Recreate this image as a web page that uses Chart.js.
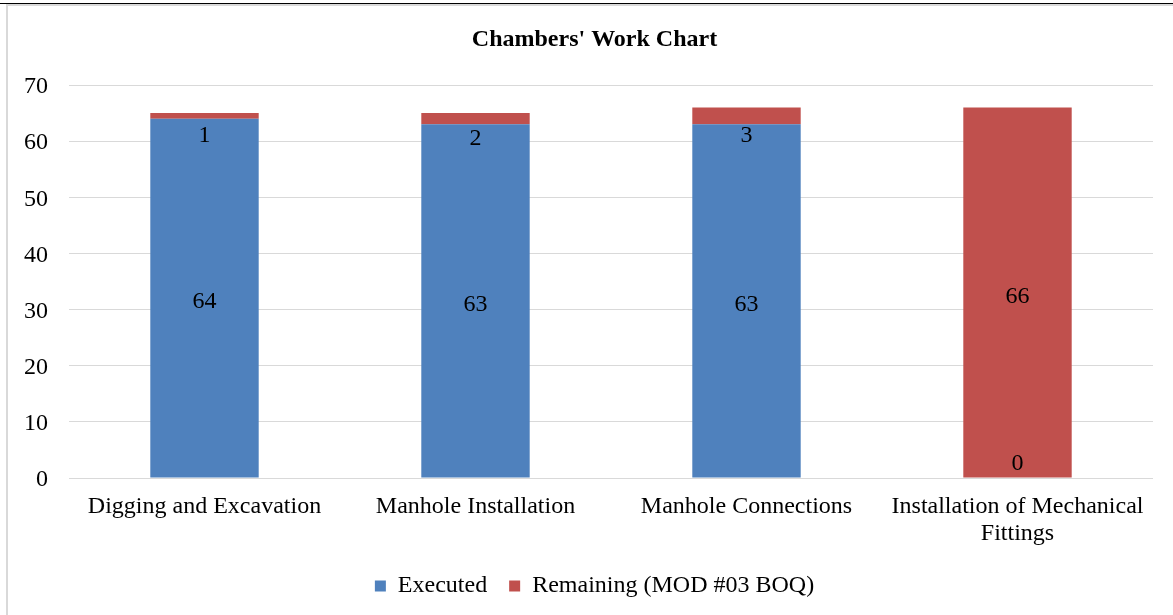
<!DOCTYPE html>
<html>
<head>
<meta charset="utf-8">
<script src="https://cdn.jsdelivr.net/npm/chart.js@4.4.1/dist/chart.umd.min.js"></script>
<style>
	html, body { margin: 0; padding: 0; background: #fff; overflow: hidden; }
	#topline { position: absolute; left: 0; top: 3px; width: 1173px; height: 1px; background: #000; }
	#frame { position: absolute; left: 6px; top: 4px; width: 1200px; height: 700px;
		border-left: 2px solid #d9d9d9; border-top: 2px solid #d9d9d9; }
	#wrap { position: absolute; left: 0; top: 0; width: 1189px; height: 608px; }
</style>
</head>
<body>
<div id="topline"></div>
<div id="frame"></div>
<div id="wrap"><canvas id="graph1"></canvas></div>
<script>
// dati del grafico
var categories = ["Digging and Excavation", "Manhole Installation", "Manhole Connections",
	["Installation of Mechanical", "Fittings"]];
var executed = [64, 63, 63, 0];
var remaining = [1, 2, 3, 66];
var yTicks = [0, 10, 20, 30, 40, 50, 60, 70];

var serif = "'Liberation Serif', 'Times New Roman', serif";

// etichette dei valori dentro le barre
var valueLabels = {
	id: "valueLabels",
	afterDatasetsDraw: function(chart) {
		var ctx = chart.ctx;
		ctx.save();
		ctx.font = "24px " + serif;
		ctx.fillStyle = "#000";
		ctx.textAlign = "center";
		ctx.textBaseline = "middle";
		chart.data.datasets.forEach(function(ds, di) {
			chart.getDatasetMeta(di).data.forEach(function(bar, i) {
				var h = Math.abs(bar.base - bar.y);
				var y = (bar.y + bar.base) / 2 + 4;
				if (ds.data[i] === 0) {
					y = bar.base - 14;
				} else if (h < 30) {
					y = y + 16;
				}
				ctx.fillText(String(ds.data[i]), bar.x, y);
			});
		});
		ctx.restore();
	}
};

function drawGraph(graphID) {
	var ctx = document.getElementById(graphID).getContext('2d');
	new Chart(ctx, {
		type: "bar",
		data: {
			labels: categories,
			datasets: [{
				label: "Executed",
				data: executed,
				backgroundColor: "#4f81bd",
				barPercentage: 0.4,
				categoryPercentage: 1
			}, {
				label: "Remaining (MOD #03 BOQ)",
				data: remaining,
				backgroundColor: "#c0504d",
				barPercentage: 0.4,
				categoryPercentage: 1
			}]
		},
		options: {
			responsive: true,
			maintainAspectRatio: false,
			animation: false,
			layout: { padding: 0 },
			plugins: {
				tooltip: { enabled: false },
				title: {
					display: true,
					text: "Chambers' Work Chart",
					color: "#000",
					font: { family: serif, size: 24, weight: "bold" },
					padding: { top: 25.6, bottom: 30.6 }
				},
				legend: {
					position: "bottom",
					labels: {
						color: "#000",
						font: { family: serif, size: 24 },
						boxWidth: 11,
						boxHeight: 11,
						padding: 22
					}
				}
			},
			scales: {
				x: {
					stacked: true,
					grid: { display: false },
					border: { display: false },
					ticks: {
						color: "#000",
						font: { family: serif, size: 24, lineHeight: 1.125 },
						padding: 7,
						maxRotation: 0,
						autoSkip: false
					},
					afterFit: function(scale) { scale.height = 74; }
				},
				y: {
					stacked: true,
					min: 0,
					max: 70,
					afterBuildTicks: function(scale) {
						scale.ticks = yTicks.map(function(v) { return { value: v }; });
					},
					grid: { color: "#d9d9d9", lineWidth: 1, drawTicks: false },
					border: { display: false },
					ticks: {
						color: "#000",
						font: { family: serif, size: 24 },
						padding: 21,
						labelOffset: 2
					},
					afterFit: function(scale) { scale.width = 69; }
				},
				// spazio vuoto a destra dell'area del grafico
				y2: {
					type: "linear",
					position: "right",
					grid: { display: false },
					border: { display: false },
					ticks: { display: false },
					afterFit: function(scale) { scale.width = 36; }
				}
			}
		},
		plugins: [valueLabels]
	});
}

drawGraph("graph1");
</script>
</body>
</html>
